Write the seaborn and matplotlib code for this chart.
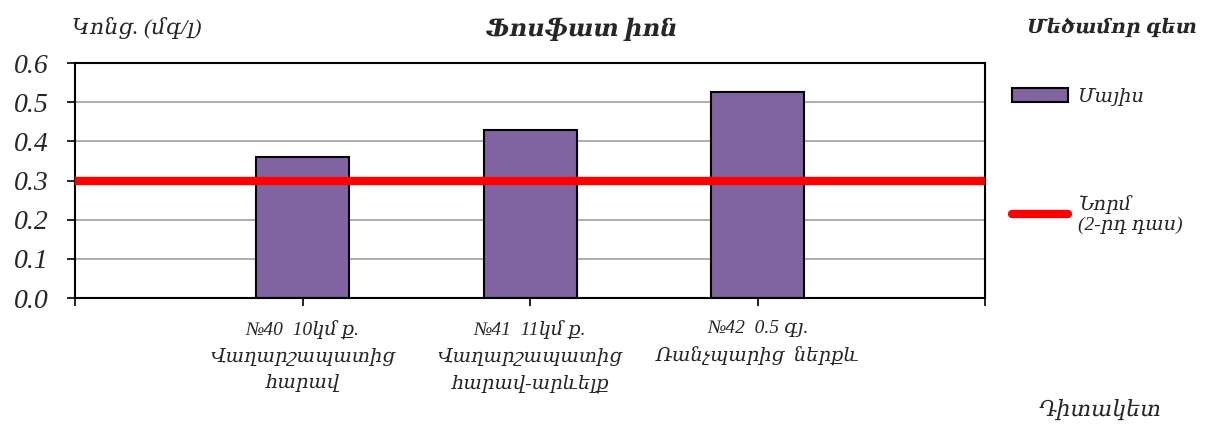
import matplotlib
matplotlib.use("Agg")
import matplotlib.pyplot as plt
import seaborn as sns
import pandas as pd

# data
stations = [
    "№40  10կմ ք.\nՎաղարշապատից\nհարավ",
    "№41  11կմ ք.\nՎաղարշապատից\nհարավ-արևելք",
    "№42  0.5 գյ.\nՌանչպարից  ներքև",
]
may_values = [0.36, 0.43, 0.525]
norm_value = 0.3
y_ticks = [0.0, 0.1, 0.2, 0.3, 0.4, 0.5, 0.6]

sns.set_style("white")
serif = ["Liberation Serif", "DejaVu Serif"]
plt.rcParams["font.family"] = serif

df = pd.DataFrame({"station": stations, "value": may_values})

fig = plt.figure(figsize=(12.05, 4.24), dpi=100)
ax = fig.add_axes([0.0622, 0.297, 0.7556, 0.5544])

sns.barplot(data=df, x="station", y="value", color="#8064A2", saturation=1,
            width=0.41, edgecolor="black", linewidth=1.5, ax=ax, label="Մայիս",
            zorder=2)
ax.axhline(norm_value, color="#FF0000", lw=6, zorder=3, label="Նորմ\n(2-րդ դաս)")

ax.set_xlim(-1, 3)
ax.set_ylim(0, 0.6)
ax.set_xticks([-1, 0, 1, 2, 3])
ax.set_xticklabels([""] + stations + [""], fontstyle="italic", fontsize=14,
                   linespacing=1.6)
ax.set_yticks(y_ticks)
ax.set_yticklabels([f"{v:.1f}" for v in y_ticks], fontstyle="italic", fontsize=20)
ax.tick_params(axis="both", direction="out", length=6, width=1.2, color="black",
               bottom=True, left=True)
ax.tick_params(axis="x", pad=10)
ax.tick_params(axis="y", pad=13)
ax.yaxis.grid(True, color="#a0a0a0", lw=1.2, zorder=0)
ax.set_axisbelow(True)
for s in ax.spines.values():
    s.set_color("black")
    s.set_linewidth(1.5)
    s.set_visible(True)
ax.set_xlabel("")
ax.set_ylabel("")

fig.text(0.06, 0.935, "Կոնց. (մգ/լ)", fontsize=16, fontstyle="italic", ha="left", va="center")
fig.text(0.483, 0.93, "Ֆոսֆատ իոն", fontsize=17.5, fontstyle="italic",
         fontweight="bold", ha="center", va="center")
fig.text(0.993, 0.935, "Մեծամոր գետ", fontsize=14.5, fontstyle="italic",
         fontweight="bold", ha="right", va="center")
fig.text(0.913, 0.033, "Դիտակետ", fontsize=16, fontstyle="italic", ha="center", va="center")

handles, labels = ax.get_legend_handles_labels()
order = [labels.index("Մայիս"), labels.index("Նորմ\n(2-րդ դաս)")]
leg = ax.legend([handles[i] for i in order], [labels[i] for i in order],
                loc="upper left", bbox_to_anchor=(1.01, 0.97), frameon=False,
                prop={"family": serif, "style": "italic", "size": 14},
                labelspacing=4.6, handlelength=2.9, handletextpad=0.5)

fig.savefig("out.png", dpi=100)
